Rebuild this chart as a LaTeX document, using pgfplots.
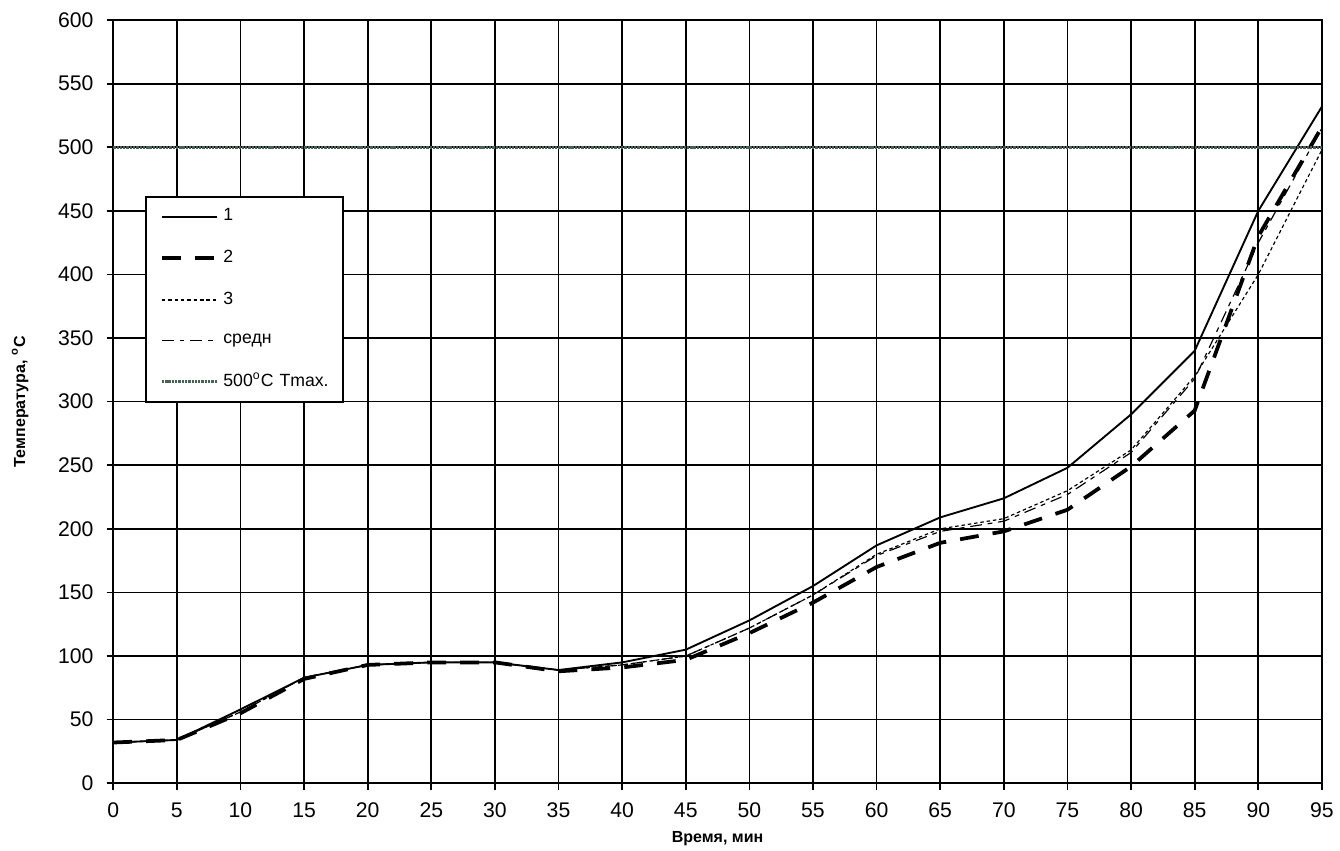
\documentclass[border=0pt]{standalone}
\usepackage{pgfplots}
\pgfplotsset{compat=1.18}
\usepackage{fontspec}
\setmainfont{Liberation Sans}
\definecolor{tmaxc}{RGB}{70,100,85}
\begin{document}
\begin{tikzpicture}
\begin{axis}[
  name=ax,
  scale only axis,
  width=18.04cm, height=11.39cm,
  xmin=0, xmax=95, ymin=0, ymax=600,
  xtick={0,5,...,95}, ytick={0,50,...,600},
  grid=major,
  grid style={black, line width=0.7pt},
  axis line style={black, line width=0.8pt},
  tick style={black, line width=0.7pt},
  tick align=outside, major tick length=0.1cm,
  xtick pos=bottom, ytick pos=left,
  /pgf/number format/assume math mode=true,
  ticklabel style={font=\fontsize{9}{10}\selectfont},
  xticklabel style={yshift=-2pt},
  yticklabel style={xshift=-2pt},
  xlabel={Время, мин}, ylabel={Температура, \textsuperscript{o}С},
  label style={font=\bfseries\fontsize{6.8}{8}\selectfont},
  xlabel style={at={(axis description cs:0.5,-0.072)}, anchor=center},
  ylabel style={at={(axis description cs:-0.077,0.5)}, anchor=center},
  legend style={at={(axis cs:2.5,461.6)}, anchor=north west, draw=black, line width=0.7pt,
    font=\fontsize{7.5}{8}\selectfont, row sep=7pt, inner xsep=6pt, inner ysep=3pt,
    text width=1.5cm},
  legend cell align=left,
  legend image code/.code={\draw[#1] (0cm,0cm) -- (0.82cm,0cm);},
]
\addplot[black, line width=0.8pt] coordinates {
(0,32) (5,34) (10,58) (15,83) (20,93) (25,95) (30,95) (35,89) (40,95) (45,105)
(50,128) (55,155) (60,187) (65,209) (70,224) (75,248) (80,290) (85,340) (90,450) (95,532)};
\addlegendentry{1}
\addplot[black, line width=1.6pt, dash pattern=on 8pt off 6pt] coordinates {
(0,32) (5,34) (10,55) (15,82) (20,93) (25,95) (30,95) (35,88) (40,91) (45,97)
(50,118) (55,142) (60,170) (65,189) (70,198) (75,215) (80,249) (85,293) (90,430) (95,516)};
\addlegendentry{2}
\addplot[black, line width=0.5pt, dash pattern=on 1.5pt off 1.2pt] coordinates {
(0,32) (5,34) (10,56) (15,83) (20,93) (25,95) (30,95) (35,89) (40,93) (45,100)
(50,122) (55,148) (60,180) (65,200) (70,208) (75,230) (80,262) (85,320) (90,400) (95,498)};
\addlegendentry{3}
\addplot[black, line width=0.5pt, dash pattern=on 5pt off 2.5pt on 2pt off 2.5pt] coordinates {
(0,32) (5,34) (10,56) (15,83) (20,93) (25,95) (30,95) (35,89) (40,93) (45,100)
(50,122) (55,148) (60,179) (65,198) (70,206) (75,227) (80,260) (85,318) (90,425) (95,515)};
\addlegendentry{средн}
\addplot[tmaxc, line width=1.3pt, dash pattern=on 1pt off 0.4pt] coordinates {(0,500) (95,500)};
\addlegendentry{\mbox{500\textsuperscript{o}С Tmax.}}
\end{axis}
\pgfresetboundingbox
\path ([shift={(-1.69cm,-1.0cm)}]ax.south west) rectangle ([shift={(0.27cm,0.3cm)}]ax.north east);
\end{tikzpicture}
\end{document}
